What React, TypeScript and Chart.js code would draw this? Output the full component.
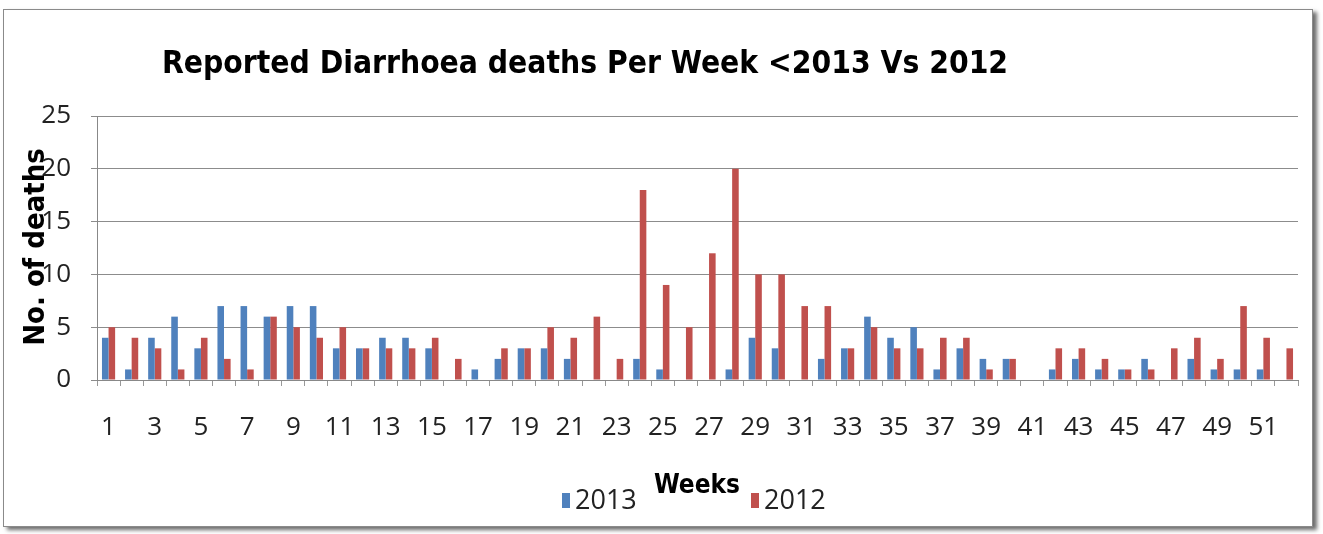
import React, { useEffect, useRef } from "react";
import { Chart, registerables } from "chart.js";

Chart.register(...registerables);

const weeks: string[] = Array.from({ length: 52 }, (_, i) => String(i + 1));
const deaths2013: number[] = [
  4, 1, 4, 6, 3, 7, 7, 6, 7, 7, 3, 3, 4, 4, 3, 0, 1, 2, 3, 3, 2, 0, 0, 2, 1, 0,
  0, 1, 4, 3, 0, 2, 3, 6, 4, 5, 1, 3, 2, 2, 0, 1, 2, 1, 1, 2, 0, 2, 1, 1, 1, 0,
];
const deaths2012: number[] = [
  5, 4, 3, 1, 4, 2, 1, 6, 5, 4, 5, 3, 3, 3, 4, 2, 0, 3, 3, 5, 4, 6, 2, 18, 9, 5,
  12, 20, 10, 10, 7, 7, 3, 5, 3, 3, 4, 4, 1, 2, 0, 3, 3, 2, 1, 1, 3, 4, 2, 7, 4, 3,
];
const yTicks: number[] = [0, 5, 10, 15, 20, 25];

const TITLE = "Reported Diarrhoea deaths Per Week <2013 Vs 2012";
const BOLD_FONT = "'DejaVu Sans Condensed', 'Open Sans', sans-serif";
const FONT = "'Open Sans', sans-serif";
const BLUE = "#4F81BD";
const RED = "#C0504D";

const textPlugin = {
  id: "textPlugin",
  afterDraw(chart: any) {
    const ctx = chart.ctx;
    ctx.save();
    ctx.fillStyle = "#000";
    ctx.textBaseline = "middle";
    // title
    ctx.font = `bold 31.5px ${BOLD_FONT}`;
    ctx.textAlign = "center";
    ctx.fillText(TITLE, 585, 65);
    // y title
    ctx.save();
    ctx.translate(36, 247);
    ctx.rotate(-Math.PI / 2);
    ctx.font = `bold 29px ${BOLD_FONT}`;
    ctx.fillText("No. of deaths", 0, 0);
    ctx.restore();
    // x title
    ctx.font = `bold 26px ${BOLD_FONT}`;
    ctx.fillText("Weeks", 697, 486);
    // legend
    const ds = chart.data.datasets;
    const items = [
      { x: 562, label: ds[0].label, color: ds[0].backgroundColor },
      { x: 751, label: ds[1].label, color: ds[1].backgroundColor },
    ];
    ctx.font = `27px ${FONT}`;
    ctx.textAlign = "left";
    for (const it of items) {
      ctx.fillStyle = it.color;
      ctx.fillRect(it.x, 493, 8, 15);
      ctx.fillStyle = "#222";
      ctx.fillText(it.label, it.x + 13, 501);
    }
    ctx.restore();
  },
};

export default function App() {
  const ref = useRef<HTMLCanvasElement | null>(null);
  useEffect(() => {
    if (!ref.current) return;
    const chart = new Chart(ref.current, {
      type: "bar",
      data: {
        labels: weeks,
        datasets: [
          { label: "2013", data: deaths2013, backgroundColor: BLUE, barPercentage: 1, categoryPercentage: 0.57 },
          { label: "2012", data: deaths2012, backgroundColor: RED, barPercentage: 1, categoryPercentage: 0.57 },
        ],
      },
      options: {
        animation: false,
        responsive: false,
        maintainAspectRatio: false,
        layout: { padding: { left: 0, top: 116, right: 25, bottom: 0 } },
        plugins: {
          legend: { display: false },
          title: { display: false },
          tooltip: { enabled: false },
        },
        scales: {
          x: {
            afterFit: (s: any) => {
              s.height = 154;
            },
            grid: {
              offset: true,
              drawOnChartArea: false,
              drawTicks: true,
              tickLength: 6,
              color: "#999",
            },
            border: { color: "#888", width: 1 },
            ticks: {
              autoSkip: false,
              maxRotation: 0,
              minRotation: 0,
              padding: 26,
              color: "#222",
              font: { family: FONT, size: 26 },
              callback: (_v: any, i: number) => (i % 2 === 0 ? weeks[i] : ""),
            },
          },
          y: {
            min: 0,
            max: 25,
            afterFit: (s: any) => {
              s.width = 97;
            },
            afterBuildTicks: (s: any) => {
              s.ticks = yTicks.map((v) => ({ value: v }));
            },
            grid: { color: "#8c8c8c", lineWidth: 1, tickLength: 6 },
            border: { color: "#888", width: 1 },
            ticks: {
              padding: 20,
              color: "#222",
              font: { family: FONT, size: 26 },
            },
          },
        },
      },
      plugins: [textPlugin],
    });
    return () => chart.destroy();
  }, []);

  return (
    <div style={{ position: "fixed", left: 0, top: 0, width: 1323, height: 534, background: "#fff" }}>
      <div
        style={{
          position: "absolute",
          left: 3,
          top: 9,
          width: 1308,
          height: 516,
          border: "1px solid #8a8a8a",
          boxShadow: "4px 3px 4px #6d6d6d",
          background: "#fff",
        }}
      />
      <canvas ref={ref} width={1323} height={534} style={{ position: "absolute", left: 0, top: 0 }} />
    </div>
  );
}
